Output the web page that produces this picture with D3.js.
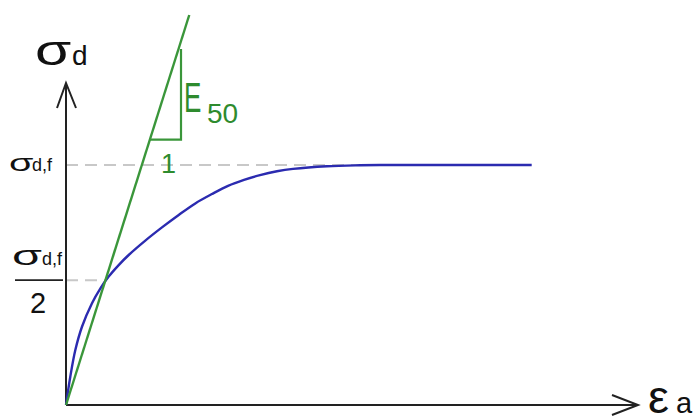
<!DOCTYPE html>
<meta charset="utf-8">
<script src="https://d3js.org/d3.v7.min.js"></script>
<style>
body { margin: 0; background: #fff; }
svg { display: block; font-family: "Liberation Sans", Arial, sans-serif; }
.axis { stroke: #222; stroke-width: 2; fill: none; }
.guide { stroke: #c8c8c8; stroke-width: 2; stroke-dasharray: 12 7; fill: none; }
</style>
<body>
<script>
// axial strain (arbitrary units) vs deviator stress (fraction of failure value)
var strain = [0, 0.069, 0.150, 0.257, 0.418, 0.551, 0.686, 0.847, 1.008, 1.275, 1.543,
              1.812, 2.079, 2.347, 2.605, 2.862, 3.119, 3.392, 3.650, 4.196, 4.727, 5.048, 7.487];
var stress = [0, 0.118, 0.229, 0.326, 0.424, 0.485, 0.535, 0.583, 0.625, 0.685, 0.740,
              0.792, 0.840, 0.879, 0.913, 0.938, 0.958, 0.974, 0.984, 0.995, 0.999, 1.0, 1.0];

var sigmaF = 1.0;          // failure deviator stress
var halfLevel = 0.52;      // sigma_d,f / 2 line as drawn
var E50 = 0.82;            // secant modulus
var secantTop = 1.625;     // where the E50 line stops
var triangle = [1.106, 1.849]; // slope triangle: horizontal leg level, vertical leg strain

var width = 694, height = 419;
var svg = d3.select("body").append("svg")
    .attr("width", width)
    .attr("height", height);

var x = d3.scaleLinear().domain([0, 10]).range([66, 688]);
var y = d3.scaleLinear().domain([0, 1]).range([405, 165]);

// dashed guide lines
svg.append("line").attr("class", "guide")
  .attr("x1", x(0)).attr("x2", x(4.8))
  .attr("y1", y(sigmaF)).attr("y2", y(sigmaF));
svg.append("line").attr("class", "guide")
  .attr("x1", x(0)).attr("x2", x(halfLevel / E50))
  .attr("y1", y(halfLevel)).attr("y2", y(halfLevel));

// axes
svg.append("line").attr("class", "axis")
  .attr("x1", x(0)).attr("y1", y(0)).attr("x2", 638).attr("y2", y(0));
svg.append("line").attr("class", "axis")
  .attr("x1", x(0)).attr("y1", y(0)).attr("x2", x(0)).attr("y2", 84);
svg.append("path").attr("class", "axis").attr("stroke-width", 1.6)
  .attr("d", "M" + (x(0) - 9) + ",108L" + x(0) + ",83L" + (x(0) + 10) + ",108");
svg.append("path").attr("class", "axis").attr("stroke-width", 1.6)
  .attr("d", "M612,395L638," + y(0) + "L612,415");

// stress-strain curve
var pts = strain.map(function(d, i) { return [d, stress[i]]; });
var line = d3.line()
  .x(function(d) { return x(d[0]); })
  .y(function(d) { return y(d[1]); })
  .curve(d3.curveCatmullRom.alpha(0.5));
svg.append("path")
  .attr("d", line(pts))
  .attr("fill", "none")
  .attr("stroke", "#2b2bb0")
  .attr("stroke-width", 2.4);

// E50 secant
var green = "#3a963a";
svg.append("line")
  .attr("x1", x(0)).attr("y1", y(0))
  .attr("x2", x(secantTop / E50)).attr("y2", y(secantTop))
  .attr("stroke", green).attr("stroke-width", 2.4);

// slope triangle
var yLeg = triangle[0];
var xLeg = triangle[1];
svg.append("path")
  .attr("d", "M" + x(yLeg / E50) + "," + y(yLeg) + "L" + x(xLeg) + "," + y(yLeg) +
             "L" + x(xLeg) + "," + (y(xLeg * E50) + 8))
  .attr("fill", "none")
  .attr("stroke", green).attr("stroke-width", 2.2);

function wide(t, xx, yy, size, sx, col) {
  svg.append("text")
    .attr("transform", "translate(" + xx + "," + yy + ") scale(" + sx + ",1)")
    .attr("font-size", size).attr("fill", col || "#111").text(t);
}

wide("E", 184, 112, 42, 0.62, "#2e8b2e");
svg.append("text").attr("x", 207).attr("y", 123)
  .attr("fill", "#2e8b2e").attr("font-size", 28).text("50");
svg.append("text").attr("x", 161).attr("y", 173)
  .attr("fill", "#2e8b2e").attr("font-size", 27).text("1");

// axis titles
wide("σ", 35, 65, 42, 1.4);
svg.append("text").attr("x", 72).attr("y", 65).attr("font-size", 28).attr("fill", "#111").text("d");
wide("ε", 648, 413, 47, 1.0);
svg.append("text").attr("x", 676).attr("y", 413).attr("font-size", 29).attr("fill", "#111").text("a");

// y level labels
wide("σ", 9, y(sigmaF) + 6, 24, 1.65);
svg.append("text").attr("x", 32).attr("y", y(sigmaF) + 6).attr("font-size", 18).attr("fill", "#111").text("d,f");
wide("σ", 12, y(halfLevel) - 15, 27, 1.8);
svg.append("text").attr("x", 42).attr("y", y(halfLevel) - 15).attr("font-size", 18).attr("fill", "#111").text("d,f");
svg.append("line")
  .attr("x1", 15).attr("x2", 63)
  .attr("y1", y(halfLevel)).attr("y2", y(halfLevel))
  .attr("stroke", "#222").attr("stroke-width", 1.8);
svg.append("text").attr("x", 38).attr("y", y(halfLevel) + 33)
  .attr("text-anchor", "middle").attr("font-size", 29).attr("fill", "#111").text("2");
</script>
</body>
